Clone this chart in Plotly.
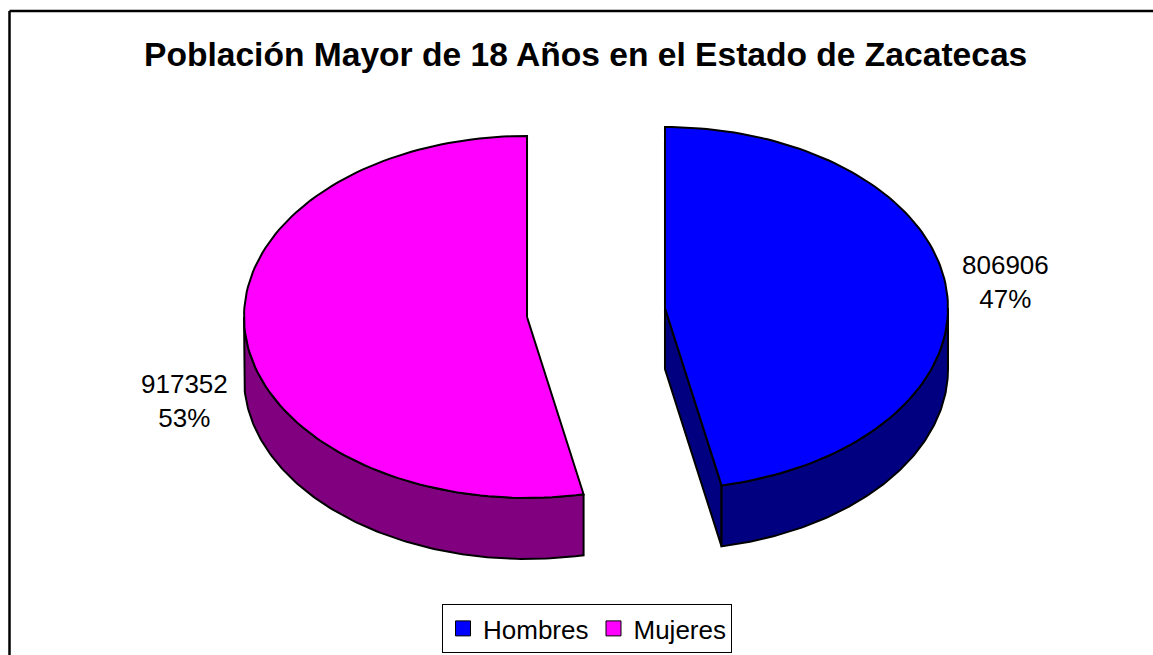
import numpy as np
import plotly.graph_objects as go

# ---- data ----
categories = ["Hombres", "Mujeres"]
values = [806906, 917352]
top_colors = ["#0000FF", "#FF00FF"]
side_colors = ["#000080", "#800080"]
title_text = "Población Mayor de 18 Años en el Estado de Zacatecas"

# ---- style / geometry constants (pixel-based axes) ----
W, H = 1153, 655
CX, CY = 596, 312.5      # pie centre before explosion
A, B = 283, 181          # ellipse semi-axes of the top face
DEPTH = 61               # thickness of the 3D pie
EXPLODE = 0.245          # explosion as a fraction of the radius
LABEL_POS = [(1005, 282), (184.5, 401)]
FONT = "Liberation Sans, Arial, sans-serif"

total = float(sum(values))
fracs = [v / total for v in values]
starts = np.concatenate([[0.0], np.cumsum(fracs)[:-1]]) * 360.0
ends = np.cumsum(fracs) * 360.0


def arc(cx, cy, a0, a1, dy=0.0, n=120):
    t = np.radians(np.linspace(a0, a1, n))
    return cx + A * np.sin(t), cy - B * np.cos(t) + dy


def poly_trace(xs, ys, color):
    xs = list(xs) + [xs[0]]
    ys = list(ys) + [ys[0]]
    return go.Scatter(x=xs, y=ys, mode="lines", fill="toself", fillcolor=color,
                      line=dict(color="black", width=2), hoverinfo="skip",
                      showlegend=False)


fig = go.Figure()

for i, (s, e) in enumerate(zip(starts, ends)):
    mid = np.radians((s + e) / 2.0)
    cx = CX + EXPLODE * A * np.sin(mid)
    cy = CY - EXPLODE * B * np.cos(mid)
    # visible radial faces
    for ang, visible in ((e, np.sin(np.radians(e)) > 1e-6),
                         (s, np.sin(np.radians(s)) < -1e-6)):
        if visible:
            px = cx + A * np.sin(np.radians(ang))
            py = cy - B * np.cos(np.radians(ang))
            fig.add_trace(poly_trace([cx, px, px, cx],
                                     [cy, py, py + DEPTH, cy + DEPTH],
                                     side_colors[i]))
    # visible outer wall (front half of the ellipse)
    lo, hi = max(s, 90.0), min(e, 270.0)
    if hi > lo:
        tx, ty = arc(cx, cy, lo, hi)
        bx, by = arc(cx, cy, lo, hi, dy=DEPTH)
        fig.add_trace(poly_trace(np.concatenate([tx, bx[::-1]]),
                                 np.concatenate([ty, by[::-1]]),
                                 side_colors[i]))
    # top face
    tx, ty = arc(cx, cy, s, e)
    fig.add_trace(poly_trace(np.concatenate([[cx], tx]),
                             np.concatenate([[cy], ty]), top_colors[i]))

# legend entries
for i, name in enumerate(categories):
    fig.add_trace(go.Scatter(x=[None], y=[None], mode="markers", name=name,
                             marker=dict(symbol="square", size=15,
                                         color=top_colors[i],
                                         line=dict(color="black", width=1))))

annotations = [dict(x=585.5, y=54, xref="x", yref="y", text="<b>" + title_text + "</b>",
                    showarrow=False, xanchor="center", yanchor="middle",
                    font=dict(family=FONT, size=33.6, color="black"))]
for i, v in enumerate(values):
    pct = round(100 * fracs[i])
    annotations.append(dict(x=LABEL_POS[i][0], y=LABEL_POS[i][1], xref="x", yref="y",
                            text=f"{v}<br>{pct}%", showarrow=False,
                            xanchor="center", yanchor="middle", align="center",
                            font=dict(family=FONT, size=26, color="black")))

border = dict(color="black", width=2.5)
fig.update_layout(
    width=W, height=H,
    margin=dict(l=0, r=0, t=0, b=0),
    paper_bgcolor="white", plot_bgcolor="white",
    xaxis=dict(range=[0, W], visible=False, fixedrange=True),
    yaxis=dict(range=[H, 0], visible=False, fixedrange=True),
    annotations=annotations,
    shapes=[dict(type="line", xref="x", yref="y", x0=9.5, y0=11, x1=W, y1=11, line=border),
            dict(type="line", xref="x", yref="y", x0=9.5, y0=11, x1=9.5, y1=H, line=border)],
    showlegend=True,
    legend=dict(orientation="h", x=587 / W, xanchor="center", y=2 / H, yanchor="bottom",
                bgcolor="white", bordercolor="black", borderwidth=1,
                font=dict(family=FONT, size=26, color="black"),
                itemwidth=30, tracegroupgap=0),
)

fig.write_html("out.html",
               config={"displayModeBar": False, "staticPlot": True},
               post_script="document.body.style.margin='0';"
                           "document.body.style.overflow='hidden';")
